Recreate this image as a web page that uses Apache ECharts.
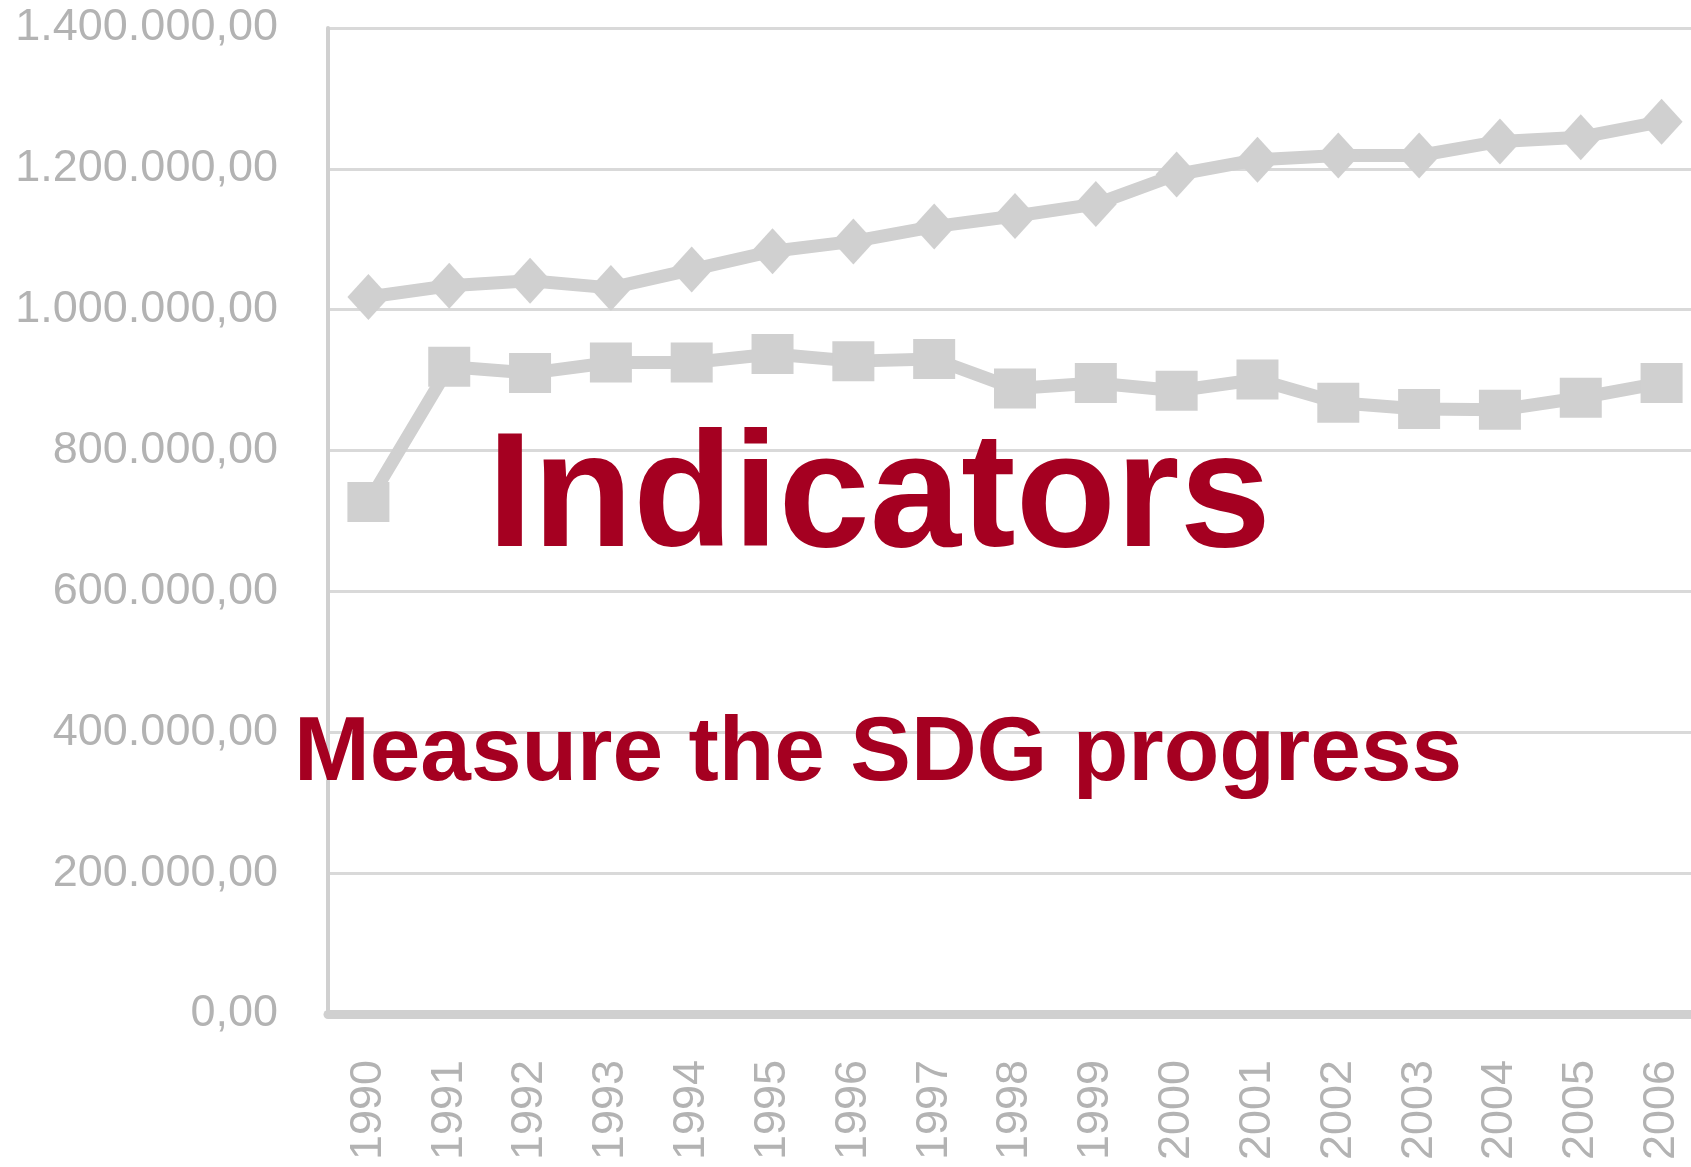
<!DOCTYPE html>
<html>
<head>
<meta charset="utf-8">
<script src="https://cdn.jsdelivr.net/npm/echarts@6/dist/echarts.min.js"></script>
<style>
  html, body { margin: 0; padding: 0; background: #ffffff; }
  #chart { width: 1691px; height: 1167px; }
</style>
</head>
<body>
<div id="chart"></div>
<script>
// ---- data ----
const years = ['1990','1991','1992','1993','1994','1995','1996','1997','1998','1999','2000','2001','2002','2003','2004','2005','2006'];
const seriesUpper = [1018000,1034000,1041000,1031000,1057000,1083000,1097000,1118000,1133000,1150000,1192000,1213000,1219000,1219000,1239000,1245000,1267000];
const seriesLower = [727000,919000,910000,925000,925000,937000,927000,930000,888000,896000,885000,901000,868000,859000,858000,875000,896000];
const yMin = 0, yMax = 1400000, yStep = 200000;
const titleMain = 'Indicators';
const titleSub = 'Measure the SDG progress';

function fmt(v) {
  const s = Math.round(v).toString().replace(/\B(?=(\d{3})+(?!\d))/g, '.');
  return s + ',00';
}

const chart = echarts.init(document.getElementById('chart'), null, { renderer: 'canvas' });
const FONT = '"Liberation Sans", Arial, sans-serif';
const GREY = '#d0d0d0';

chart.setOption({
  animation: false,
  backgroundColor: '#ffffff',
  grid: { left: 328, top: 28, width: 1374, height: 986, containLabel: false, outerBoundsMode: 'none' },
  xAxis: {
    type: 'category',
    data: years,
    boundaryGap: true,
    axisLine: { show: true, lineStyle: { color: GREY, width: 9 } },
    axisTick: { show: false },
    axisLabel: { rotate: 90, color: '#b3b3b3', fontFamily: FONT, fontSize: 45, margin: 46, interval: 0 },
    splitLine: { show: false }
  },
  yAxis: {
    type: 'value',
    min: yMin, max: yMax, interval: yStep,
    axisLine: { show: true, lineStyle: { color: GREY, width: 4 } },
    axisTick: { show: false },
    axisLabel: { color: '#b3b3b3', fontFamily: FONT, fontSize: 45, margin: 50, formatter: fmt },
    splitLine: { show: true, lineStyle: { color: '#d9d9d9', width: 3 } }
  },
  series: [
    {
      type: 'line', data: seriesUpper, symbol: 'diamond', symbolSize: [42, 46],
      lineStyle: { color: GREY, width: 13 }, itemStyle: { color: GREY },
      z: 3
    },
    {
      type: 'line', data: seriesLower, symbol: 'rect', symbolSize: [42, 40],
      lineStyle: { color: GREY, width: 13 }, itemStyle: { color: GREY },
      z: 3
    }
  ],
  graphic: [
    {
      type: 'text', x: 879, y: 501, z: 100,
      style: { text: titleMain, fill: '#a50021', font: 'bold 164px ' + FONT, align: 'center', verticalAlign: 'middle' }
    },
    {
      type: 'text', x: 878, y: 755, z: 100,
      style: { text: titleSub, fill: '#a50021', font: 'bold 91px ' + FONT, align: 'center', verticalAlign: 'middle' }
    }
  ]
});
</script>
</body>
</html>
